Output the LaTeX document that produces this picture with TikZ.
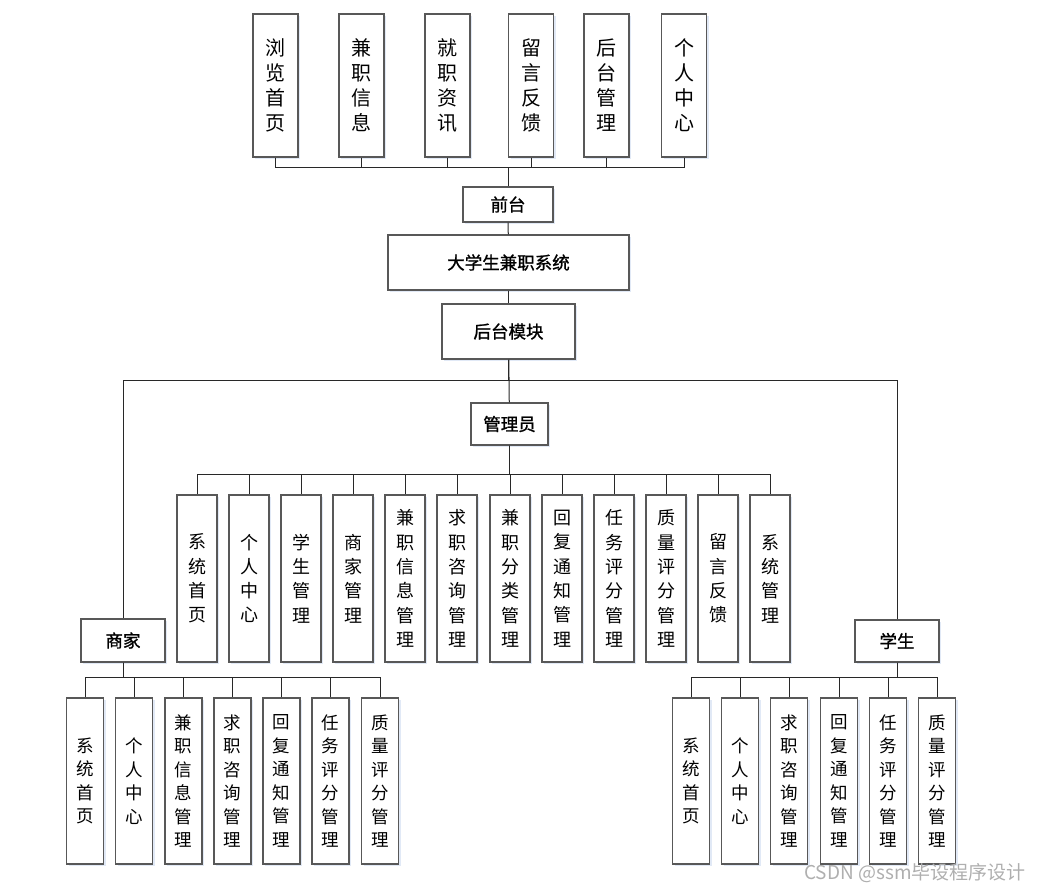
\documentclass[tikz,border=0pt]{standalone}
\usepackage{fontspec}
\usepackage{tikz}
\usetikzlibrary{positioning, shadows}
\newfontfamily\cjk{Noto Sans CJK SC}
\newfontfamily\cjkmid[FakeBold=1.2]{Noto Sans CJK SC}
\definecolor{boxgray}{RGB}{88,88,88}
\definecolor{linegray}{RGB}{40,40,40}
\definecolor{shadowblue}{RGB}{205,218,240}
\definecolor{markgray}{RGB}{175,175,175}
\tikzset{
  box/.style={rectangle, draw=boxgray, fill=white, line width=1.3pt,
    align=center, inner sep=0pt,
    drop shadow={fill=shadowblue, opacity=0.6, shadow xshift=2pt, shadow yshift=-2pt}},
  topbox/.style={box, minimum width=45pt, minimum height=143pt,
    font={\cjk\fontsize{20}{25}\selectfont}},
  adminbox/.style={box, minimum width=40pt, minimum height=167pt,
    font={\cjk\fontsize{18}{24.3}\selectfont}},
  lowbox/.style={box, minimum width=37pt, minimum height=166pt,
    font={\cjk\fontsize{17.5}{23.5}\selectfont}},
  hbox/.style={box, font={\cjkmid\fontsize{17.5}{20}\selectfont}},
  line/.style={line width=1pt, color=linegray}
}
\begin{document}
\begin{tikzpicture}[x=1pt, y=-1pt]
  \useasboundingbox (0,0) rectangle (1044,892);

  % Front-end pages
  \node[topbox] (t1) at (275.5, 85.5) {浏\\览\\首\\页};
  \node[topbox] (t2) at (361.5, 85.5) {兼\\职\\信\\息};
  \node[topbox] (t3) at (447.5, 85.5) {就\\职\\资\\讯};
  \node[topbox] (t4) at (531, 85.5) {留\\言\\反\\馈};
  \node[topbox] (t5) at (606.5, 85.5) {后\\台\\管\\理};
  \node[topbox] (t6) at (684, 85.5) {个\\人\\中\\心};

  % Main column
  \node[hbox, minimum width=90pt, minimum height=35pt] (front) at (508, 204.5) {前台};
  \node[hbox, minimum width=241pt, minimum height=55pt] (sys) at (508.5, 262.5) {大学生兼职系统};
  \node[hbox, minimum width=133pt, minimum height=55pt] (back) at (508.5, 331.5) {后台模块};

  % Roles
  \node[hbox, minimum width=77pt, minimum height=42pt] (admin) at (509.5, 424) {管理员};
  \node[hbox, minimum width=84pt, minimum height=43pt] (shop) at (123, 640.5) {商家};
  \node[hbox, minimum width=84pt, minimum height=42pt] (stu) at (897, 641) {学生};

  % Admin modules
  \node[adminbox] (a1) at (197, 578.5) {系\\统\\首\\页};
  \node[adminbox] (a2) at (249, 578.5) {个\\人\\中\\心};
  \node[adminbox] (a3) at (301, 578.5) {学\\生\\管\\理};
  \node[adminbox] (a4) at (353, 578.5) {商\\家\\管\\理};
  \node[adminbox] (a5) at (405, 578.5) {兼\\职\\信\\息\\管\\理};
  \node[adminbox] (a6) at (457, 578.5) {求\\职\\咨\\询\\管\\理};
  \node[adminbox] (a7) at (510, 578.5) {兼\\职\\分\\类\\管\\理};
  \node[adminbox] (a8) at (562, 578.5) {回\\复\\通\\知\\管\\理};
  \node[adminbox] (a9) at (614, 578.5) {任\\务\\评\\分\\管\\理};
  \node[adminbox] (a10) at (666, 578.5) {质\\量\\评\\分\\管\\理};
  \node[adminbox] (a11) at (718, 578.5) {留\\言\\反\\馈};
  \node[adminbox] (a12) at (770, 578.5) {系\\统\\管\\理};

  % Shop modules
  \node[lowbox] (s1) at (85, 781) {系\\统\\首\\页};
  \node[lowbox] (s2) at (134, 781) {个\\人\\中\\心};
  \node[lowbox] (s3) at (183.5, 781) {兼\\职\\信\\息\\管\\理};
  \node[lowbox] (s4) at (232.5, 781) {求\\职\\咨\\询\\管\\理};
  \node[lowbox] (s5) at (281.5, 781) {回\\复\\通\\知\\管\\理};
  \node[lowbox] (s6) at (330.5, 781) {任\\务\\评\\分\\管\\理};
  \node[lowbox] (s7) at (380, 781) {质\\量\\评\\分\\管\\理};

  % Student modules
  \node[lowbox] (u1) at (691, 781) {系\\统\\首\\页};
  \node[lowbox] (u2) at (740, 781) {个\\人\\中\\心};
  \node[lowbox] (u3) at (789, 781) {求\\职\\咨\\询\\管\\理};
  \node[lowbox] (u4) at (839, 781) {回\\复\\通\\知\\管\\理};
  \node[lowbox] (u5) at (888, 781) {任\\务\\评\\分\\管\\理};
  \node[lowbox] (u6) at (937, 781) {质\\量\\评\\分\\管\\理};

  % Watermark
  \node[font={\cjk\fontsize{19}{22}\selectfont}, text=markgray] (mark) at (915, 873) {CSDN @ssm毕设程序设计};

  % Connect lines
  \draw[line] (t1.south) -- ++(0,10) -| (front.north);
  \draw[line] (t2.south) -- ++(0,10) -| (front.north);
  \draw[line] (t3.south) -- ++(0,10) -| (front.north);
  \draw[line] (t4.south) -- ++(0,10) -| (front.north);
  \draw[line] (t5.south) -- ++(0,10) -| (front.north);
  \draw[line] (t6.south) -- ++(0,10) -| (front.north);

  \draw[line] (front) -- (sys);
  \draw[line] (sys) -- (back);
  \draw[line] (back) -- (admin);
  \draw[line] (back.south) -- ++(0,21) -| (shop.north);
  \draw[line] (back.south) -- ++(0,21) -| (stu.north);

  \draw[line] (admin.south) -- ++(0,29) -| (a1.north);
  \draw[line] (admin.south) -- ++(0,29) -| (a2.north);
  \draw[line] (admin.south) -- ++(0,29) -| (a3.north);
  \draw[line] (admin.south) -- ++(0,29) -| (a4.north);
  \draw[line] (admin.south) -- ++(0,29) -| (a5.north);
  \draw[line] (admin.south) -- ++(0,29) -| (a6.north);
  \draw[line] (admin.south) -- ++(0,29) -| (a7.north);
  \draw[line] (admin.south) -- ++(0,29) -| (a8.north);
  \draw[line] (admin.south) -- ++(0,29) -| (a9.north);
  \draw[line] (admin.south) -- ++(0,29) -| (a10.north);
  \draw[line] (admin.south) -- ++(0,29) -| (a11.north);
  \draw[line] (admin.south) -- ++(0,29) -| (a12.north);

  \draw[line] (shop.south) -- ++(0,15) -| (s1.north);
  \draw[line] (shop.south) -- ++(0,15) -| (s2.north);
  \draw[line] (shop.south) -- ++(0,15) -| (s3.north);
  \draw[line] (shop.south) -- ++(0,15) -| (s4.north);
  \draw[line] (shop.south) -- ++(0,15) -| (s5.north);
  \draw[line] (shop.south) -- ++(0,15) -| (s6.north);
  \draw[line] (shop.south) -- ++(0,15) -| (s7.north);

  \draw[line] (stu.south) -- ++(0,15) -| (u1.north);
  \draw[line] (stu.south) -- ++(0,15) -| (u2.north);
  \draw[line] (stu.south) -- ++(0,15) -| (u3.north);
  \draw[line] (stu.south) -- ++(0,15) -| (u4.north);
  \draw[line] (stu.south) -- ++(0,15) -| (u5.north);
  \draw[line] (stu.south) -- ++(0,15) -| (u6.north);
\end{tikzpicture}
\end{document}
